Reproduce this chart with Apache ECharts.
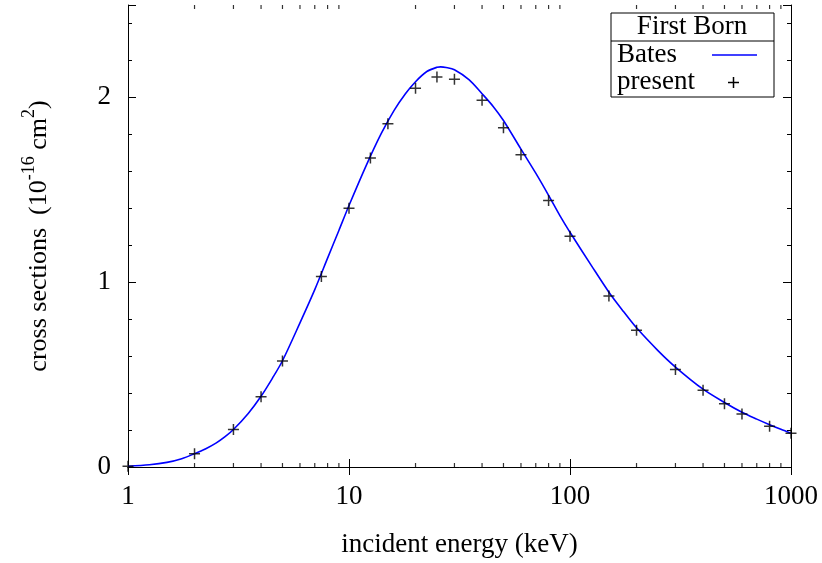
<!DOCTYPE html>
<html>
<head>
<meta charset="utf-8">
<title>First Born cross sections</title>
<script src="https://cdn.jsdelivr.net/npm/echarts@6/dist/echarts.min.js"></script>
<style>
  html, body { margin: 0; padding: 0; background: #fff; }
  #chart { width: 822px; height: 563px; }
</style>
</head>
<body>
<div id="chart"></div>
<script>
// Bates curve
const batesEnergy = [1, 1.25, 1.5, 1.75, 2, 2.25, 2.5, 2.75, 3, 3.5, 4, 4.5, 5, 6, 7, 8, 9, 10, 12, 14, 16, 18, 20, 22.5, 25, 26, 27.5, 30, 35, 40, 45, 50, 60, 70, 80, 90, 100, 125, 150, 175, 200, 250, 300, 400, 500, 600, 700, 800, 900, 1000]
const batesValues = [0.004, 0.012, 0.025, 0.045, 0.072, 0.099, 0.129, 0.164, 0.203, 0.29, 0.383, 0.48, 0.575, 0.78, 0.96, 1.13, 1.28, 1.415, 1.635, 1.805, 1.93, 2.02, 2.085, 2.14, 2.163, 2.165, 2.162, 2.15, 2.095, 2.02, 1.95, 1.875, 1.72, 1.59, 1.47, 1.36, 1.27, 1.09, 0.946, 0.84, 0.753, 0.63, 0.541, 0.421, 0.349, 0.296, 0.259, 0.229, 0.204, 0.183]

// present results
const presentEnergy = [1, 2, 3, 4, 5, 7.5, 10, 12.5, 15, 20, 25, 30, 40, 50, 60, 80, 100, 150, 200, 300, 400, 500, 600, 800, 1000]
const presentValues = [0.004, 0.072, 0.203, 0.38, 0.574, 1.031, 1.40, 1.672, 1.857, 2.05, 2.11, 2.098, 1.985, 1.836, 1.69, 1.442, 1.249, 0.926, 0.74, 0.528, 0.415, 0.342, 0.287, 0.221, 0.183]

// log axis minor ticks (2..9 in each decade)
const minorTickEnergy = [2, 3, 4, 5, 6, 7, 8, 9, 20, 30, 40, 50, 60, 70, 80, 90, 200, 300, 400, 500, 600, 700, 800, 900]

const Y_MIN = 0
const Y_MAX = 2.5
const FONT = 'Liberation Serif'
const FS = 27
const plusPath = 'path://M9.5,0h3v9.5h9.5v3h-9.5v9.5h-3v-9.5h-9.5v-3h9.5z'

const chart = echarts.init(document.getElementById('chart'))

const xCommon = {
    type: 'log',
    logBase: 10,
    min: 1,
    max: 1000,
    axisLine: { show: true, lineStyle: { color: '#000', width: 1 } },
    axisTick: { show: true, inside: true, length: 8, lineStyle: { color: '#000' } },
    splitLine: { show: false }
}
const yCommon = {
    type: 'value',
    min: Y_MIN,
    max: Y_MAX,
    interval: 1,
    axisLine: { show: true, lineStyle: { color: '#000', width: 1 } },
    axisTick: { show: true, inside: true, length: 8, lineStyle: { color: '#000' } },
    minorTick: { show: true, splitNumber: 5, length: 4, lineStyle: { color: '#000' } },
    splitLine: { show: false }
}

// short minor tick mark on the log axis, drawn as a scatter symbol
const tickSeries = (yVal, offset) => ({
    type: 'scatter',
    data: minorTickEnergy.map(e => [e, yVal]),
    symbol: 'rect',
    symbolSize: [1.2, 4],
    symbolOffset: [0, offset],
    itemStyle: { color: '#000' },
    silent: true,
    clip: false,
    z: 5
})

chart.setOption({
    animation: false,
    backgroundColor: '#fff',
    grid: { left: 128, right: 31, top: 5, bottom: 93, containLabel: false },
    xAxis: [
        Object.assign({}, xCommon, {
            position: 'bottom',
            name: 'incident energy (keV)',
            nameLocation: 'middle',
            nameGap: 64,
            nameTextStyle: { fontFamily: FONT, fontSize: FS, color: '#000' },
            axisLabel: {
                fontFamily: FONT, fontSize: FS, color: '#000', margin: 16,
                formatter: v => String(Math.round(v))
            }
        }),
        Object.assign({}, xCommon, { position: 'top', axisLabel: { show: false } })
    ],
    yAxis: [
        Object.assign({}, yCommon, {
            position: 'left',
            name: '{n|cross sections  (10}{s|-16}{n| cm}{s|2}{n|)}',
            nameLocation: 'middle',
            nameRotate: 90,
            nameGap: 76,
            nameTextStyle: {
                color: '#000',
                rich: {
                    n: { fontFamily: FONT, fontSize: 26, color: '#000', lineHeight: 32, verticalAlign: 'bottom' },
                    s: { fontFamily: FONT, fontSize: 18, color: '#000', lineHeight: 32, verticalAlign: 'top' }
                }
            },
            axisLabel: { fontFamily: FONT, fontSize: FS, color: '#000', margin: 17, showMaxLabel: false }
        }),
        Object.assign({}, yCommon, { position: 'right', axisLabel: { show: false } })
    ],
    series: [
        {
            name: 'Bates',
            type: 'line',
            data: batesEnergy.map((e, i) => [e, batesValues[i]]),
            smooth: 0.3,
            showSymbol: false,
            lineStyle: { color: '#0000ff', width: 1.6 },
            z: 2
        },
        {
            name: 'present',
            type: 'scatter',
            data: presentEnergy.map((e, i) => [e, presentValues[i]]),
            symbol: plusPath,
            symbolSize: 11,
            itemStyle: { color: '#000' },
            clip: false,
            z: 3
        },
        tickSeries(Y_MIN, -2),
        tickSeries(Y_MAX, 2)
    ],
    graphic: [
        { type: 'rect', shape: { x: 611, y: 13, width: 163, height: 84 }, style: { fill: '#fff', stroke: '#000', lineWidth: 1 }, z: 10 },
        { type: 'line', shape: { x1: 611, y1: 41, x2: 774, y2: 41 }, style: { stroke: '#000', lineWidth: 1 }, z: 11 },
        { type: 'text', x: 692, y: 27, style: { text: 'First Born', font: FS + 'px ' + FONT, fill: '#000', align: 'center', verticalAlign: 'middle' }, z: 11 },
        { type: 'text', x: 617, y: 55, style: { text: 'Bates', font: FS + 'px ' + FONT, fill: '#000', align: 'left', verticalAlign: 'middle' }, z: 11 },
        { type: 'line', shape: { x1: 712, y1: 55, x2: 757, y2: 55 }, style: { stroke: '#0000ff', lineWidth: 1.6 }, z: 11 },
        { type: 'text', x: 617, y: 82, style: { text: 'present', font: FS + 'px ' + FONT, fill: '#000', align: 'left', verticalAlign: 'middle' }, z: 11 },
        { type: 'line', shape: { x1: 728, y1: 82.5, x2: 739, y2: 82.5 }, style: { stroke: '#000', lineWidth: 1.5 }, z: 11 },
        { type: 'line', shape: { x1: 733.5, y1: 77, x2: 733.5, y2: 88 }, style: { stroke: '#000', lineWidth: 1.5 }, z: 11 }
    ]
})

window.addEventListener('resize', () => chart.resize())
</script>
</body>
</html>
